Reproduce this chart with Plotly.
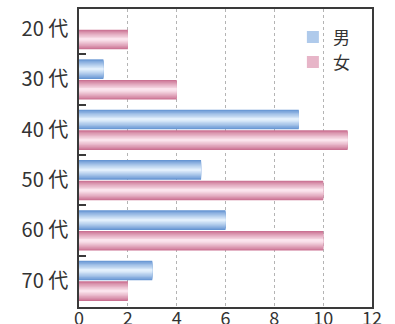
import plotly.graph_objects as go

# Age groups (top to bottom) and respondent counts by sex
age_groups = ["20 代", "30 代", "40 代", "50 代", "60 代", "70 代"]
male = [0, 1, 9, 5, 6, 3]
female = [2, 4, 11, 10, 10, 2]
x_ticks = [0, 2, 4, 6, 8, 10, 12]

FONT = "Noto Sans CJK JP, Noto Sans, sans-serif"
TEXT = "#333333"
AXIS = "#3a3a3a"

BAR_W = 0.39          # band fraction per series
N_LAYERS = 12         # stacked layers used to shade each bar


def hex_to_rgb(h):
    h = h.lstrip("#")
    return tuple(int(h[i:i + 2], 16) for i in (0, 2, 4))


def mix(c1, c2, t):
    a, b = hex_to_rgb(c1), hex_to_rgb(c2)
    return "rgb({},{},{})".format(*[round(a[i] + (b[i] - a[i]) * t) for i in range(3)])


series = [
    ("男", male, -0.205, "#6393d2", "#e2effc"),
    ("女", female, 0.205, "#c96f90", "#fbe4ed"),
]

fig = go.Figure()
for name, values, center, edge, light in series:
    for k in range(N_LAYERS):
        t = k / (N_LAYERS - 1)
        w = BAR_W * (1 - k / N_LAYERS)
        color = mix(edge, light, t ** 0.85)
        fig.add_trace(go.Bar(
            y=age_groups,
            x=values,
            orientation="h",
            width=w,
            offset=center - w / 2,
            marker=dict(color=color, line=dict(width=0)),
            name=name,
            legendgroup=name,
            showlegend=(k == N_LAYERS // 2),
            hoverinfo="skip" if k else "x+name",
        ))

fig.update_layout(
    width=395,
    height=324,
    margin=dict(l=79, r=23, t=9, b=17, autoexpand=False),
    paper_bgcolor="white",
    plot_bgcolor="white",
    barmode="overlay",
    font=dict(family=FONT, color=TEXT, size=16),
    showlegend=True,
    legend=dict(
        x=0.73, y=0.965, xanchor="left", yanchor="top",
        bgcolor="rgba(0,0,0,0)",
        font=dict(size=17, color=TEXT),
        itemsizing="constant",
        itemwidth=30,
        tracegroupgap=0,
    ),
    xaxis=dict(
        range=[0, 12],
        tickvals=x_ticks,
        ticks="",
        showgrid=True,
        gridcolor="#b4b4b4",
        griddash="dot",
        gridwidth=1,
        showline=True,
        linecolor=AXIS,
        linewidth=1.5,
        mirror=True,
        zeroline=False,
        automargin=False,
        ticklabelstandoff=-5,
        tickfont=dict(size=18, color=TEXT),
    ),
    yaxis=dict(
        type="category",
        categoryorder="array",
        categoryarray=age_groups,
        range=[5.52, -0.4],
        tickson="boundaries",
        ticks="inside",
        ticklen=7,
        tickwidth=1.5,
        tickcolor=AXIS,
        showgrid=False,
        showline=True,
        linecolor=AXIS,
        linewidth=1.5,
        mirror=True,
        automargin=False,
        ticklabelstandoff=5,
        tickfont=dict(size=20, color=TEXT),
    ),
)

fig.write_html("out.html")
